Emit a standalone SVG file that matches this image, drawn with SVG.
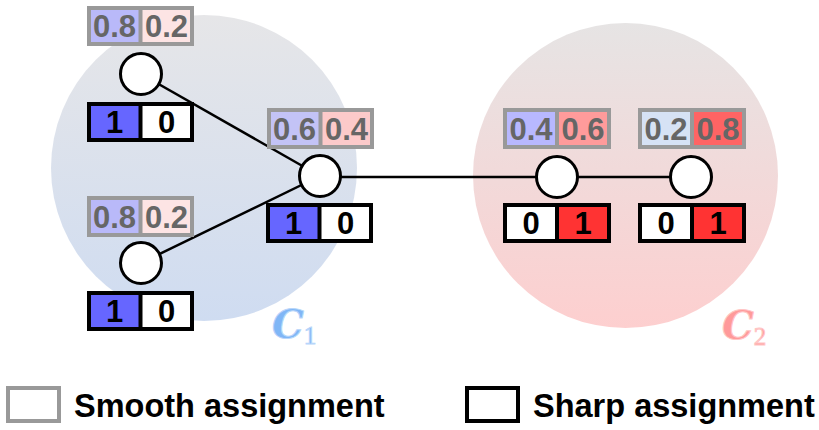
<svg xmlns="http://www.w3.org/2000/svg" width="819" height="430" viewBox="0 0 819 430">
<defs>
<linearGradient id="g1" x1="0" y1="0" x2="0" y2="1">
<stop offset="0" stop-color="#e6e6e8"/>
<stop offset="1" stop-color="#cfdcf1"/>
</linearGradient>
<linearGradient id="g2" x1="0" y1="0" x2="0" y2="1">
<stop offset="0" stop-color="#e6e4e4"/>
<stop offset="1" stop-color="#fdcfcf"/>
</linearGradient>
<style>
.sm{stroke:#999;stroke-width:4;fill:none}
.sh{stroke:#000;stroke-width:4;fill:none}
.smt{font-family:"Liberation Sans",Arial,sans-serif;font-weight:bold;font-size:31px;fill:#666;text-anchor:middle}
.sht{font-family:"Liberation Sans",Arial,sans-serif;font-weight:bold;font-size:31px;fill:#000;text-anchor:middle}
.nd{fill:#fff;stroke:#000;stroke-width:3}
.ed{stroke:#000;stroke-width:2.5;fill:none}
.lg{font-family:"Liberation Sans",Arial,sans-serif;font-weight:bold;font-size:32.5px;fill:#000}
.cl{font-family:"DejaVu Serif","Liberation Serif",serif;font-weight:bold;font-style:italic}
.sub{font-family:"Liberation Serif",serif;font-style:normal;font-weight:normal}
</style>
</defs>
<g id="clusters">
<circle cx="204" cy="168" r="153" fill="url(#g1)"/>
<circle cx="625.5" cy="175.5" r="152.5" fill="url(#g2)"/>
</g>
<g id="connectors">
<line class="ed" x1="141" y1="74" x2="320" y2="176"/>
<line class="ed" x1="141" y1="263" x2="320" y2="176"/>
<line class="ed" x1="320" y1="177" x2="557" y2="177"/>
<line class="ed" x1="557" y1="177" x2="691" y2="177"/>
</g>
<g id="nodeA">
<rect x="89" y="8" width="51.5" height="36" fill="#b9b9f9"/>
<rect x="140.5" y="8" width="51.5" height="36" fill="#fde4e4"/>
<rect class="sm" x="89" y="8" width="103" height="36"/>
<line class="sm" x1="140.5" y1="8" x2="140.5" y2="44"/>
<text class="smt" x="114.5" y="37">0.8</text>
<text class="smt" x="166.5" y="37">0.2</text>
<circle class="nd" cx="141" cy="74" r="20.5"/>
<rect x="89" y="104" width="51.5" height="36" fill="#6666ff"/>
<rect x="140.5" y="104" width="51.5" height="36" fill="#fff"/>
<rect class="sh" x="89" y="104" width="103" height="36"/>
<line class="sh" x1="140.5" y1="104" x2="140.5" y2="140"/>
<text class="sht" x="114.5" y="133">1</text>
<text class="sht" x="166.5" y="133">0</text>
</g>
<g id="nodeB">
<rect x="269" y="110" width="51.5" height="37" fill="#c3c3f6"/>
<rect x="320.5" y="110" width="51.5" height="37" fill="#fccaca"/>
<rect class="sm" x="269" y="110" width="103" height="37"/>
<line class="sm" x1="320.5" y1="110" x2="320.5" y2="147"/>
<text class="smt" x="294.5" y="140">0.6</text>
<text class="smt" x="346.5" y="140">0.4</text>
<circle class="nd" cx="320" cy="176" r="20.5"/>
<rect x="268" y="205" width="51.5" height="36" fill="#6666ff"/>
<rect x="319.5" y="205" width="51.5" height="36" fill="#fff"/>
<rect class="sh" x="268" y="205" width="103" height="36"/>
<line class="sh" x1="319.5" y1="205" x2="319.5" y2="241"/>
<text class="sht" x="293.5" y="234">1</text>
<text class="sht" x="345.5" y="234">0</text>
</g>
<g id="nodeC">
<rect x="89" y="198" width="51.5" height="37" fill="#b9b9f9"/>
<rect x="140.5" y="198" width="51.5" height="37" fill="#fde4e4"/>
<rect class="sm" x="89" y="198" width="103" height="37"/>
<line class="sm" x1="140.5" y1="198" x2="140.5" y2="235"/>
<text class="smt" x="114.5" y="228">0.8</text>
<text class="smt" x="166.5" y="228">0.2</text>
<circle class="nd" cx="141" cy="263" r="20.5"/>
<rect x="89" y="293" width="51.5" height="36" fill="#6666ff"/>
<rect x="140.5" y="293" width="51.5" height="36" fill="#fff"/>
<rect class="sh" x="89" y="293" width="103" height="36"/>
<line class="sh" x1="140.5" y1="293" x2="140.5" y2="329"/>
<text class="sht" x="114.5" y="322">1</text>
<text class="sht" x="166.5" y="322">0</text>
</g>
<g id="nodeD">
<rect x="505" y="110" width="52" height="37" fill="#b8b8ff"/>
<rect x="557" y="110" width="52" height="37" fill="#ff9b9b"/>
<rect class="sm" x="505" y="110" width="104" height="37"/>
<line class="sm" x1="557" y1="110" x2="557" y2="147"/>
<text class="smt" x="531" y="140">0.4</text>
<text class="smt" x="583" y="140">0.6</text>
<circle class="nd" cx="557" cy="177" r="20.5"/>
<rect x="505" y="205" width="52" height="36" fill="#fff"/>
<rect x="557" y="205" width="52" height="36" fill="#ff3333"/>
<rect class="sh" x="505" y="205" width="104" height="36"/>
<line class="sh" x1="557" y1="205" x2="557" y2="241"/>
<text class="sht" x="531" y="234">0</text>
<text class="sht" x="583" y="234">1</text>
</g>
<g id="nodeE">
<rect x="640" y="110" width="52" height="37" fill="#d6e2f5"/>
<rect x="692" y="110" width="52" height="37" fill="#ff6464"/>
<rect class="sm" x="640" y="110" width="104" height="37"/>
<line class="sm" x1="692" y1="110" x2="692" y2="147"/>
<text class="smt" x="666" y="140">0.2</text>
<text class="smt" x="718" y="140">0.8</text>
<circle class="nd" cx="691" cy="177" r="20.5"/>
<rect x="640" y="205" width="52" height="36" fill="#fff"/>
<rect x="692" y="205" width="52" height="36" fill="#ff3333"/>
<rect class="sh" x="640" y="205" width="104" height="36"/>
<line class="sh" x1="692" y1="205" x2="692" y2="241"/>
<text class="sht" x="666" y="234">0</text>
<text class="sht" x="718" y="234">1</text>
</g>
<g id="labels">
<text class="cl" x="272" y="338" font-size="40" fill="#80b6f6" stroke="#b8d6fa" stroke-width="1">C<tspan class="sub" font-size="25" dy="6">1</tspan></text>
<text class="cl" x="722" y="339" font-size="40" fill="#ff9a9a" stroke="#ffc6c6" stroke-width="1">C<tspan class="sub" font-size="25" dy="6">2</tspan></text>
</g>
<g id="legend">
<rect x="8" y="388" width="51" height="33" fill="#fff" stroke="#999" stroke-width="4"/>
<text class="lg" x="74" y="417">Smooth assignment</text>
<rect x="467" y="388" width="51" height="33" fill="#fff" stroke="#000" stroke-width="4"/>
<text class="lg" x="533" y="417">Sharp assignment</text>
</g>
</svg>
